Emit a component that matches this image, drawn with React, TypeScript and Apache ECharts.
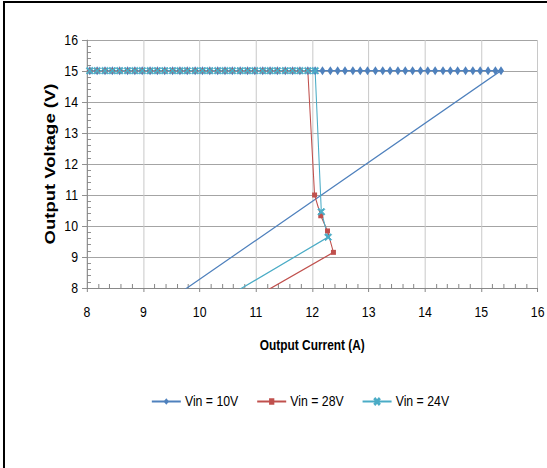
import React, { useEffect, useRef } from "react";
import * as echarts from "echarts";

// Output current (A) / output voltage (V)
const vin10Current = [
  8.05, 8.18, 8.32, 8.45, 8.58, 8.72, 8.85, 8.98, 9.12, 9.25,
  9.38, 9.52, 9.65, 9.78, 9.92, 10.05, 10.18, 10.32, 10.45, 10.58,
  10.72, 10.85, 10.98, 11.12, 11.25, 11.38, 11.52, 11.65, 11.78, 11.92,
  12.05, 12.18, 12.32, 12.45, 12.58, 12.72, 12.85, 12.98, 13.12, 13.25,
  13.38, 13.52, 13.65, 13.78, 13.92, 14.05, 14.18, 14.32, 14.45, 14.58,
  14.72, 14.85, 14.98, 15.12, 15.25, 15.35, 8.98,
];
const vin10Voltage = [
  15.01, 15.01, 15.01, 15.01, 15.01, 15.01, 15.01, 15.01, 15.01, 15.01,
  15.01, 15.01, 15.01, 15.01, 15.01, 15.01, 15.01, 15.01, 15.01, 15.01,
  15.01, 15.01, 15.01, 15.01, 15.01, 15.01, 15.01, 15.01, 15.01, 15.01,
  15.01, 15.01, 15.01, 15.01, 15.01, 15.01, 15.01, 15.01, 15.01, 15.01,
  15.01, 15.01, 15.01, 15.01, 15.01, 15.01, 15.01, 15.01, 15.01, 15.01,
  15.01, 15.01, 15.01, 15.01, 15.01, 15.01, 7.0,
];

const vin28Current = [
  8.05, 8.18, 8.32, 8.45, 8.58, 8.72, 8.85, 8.98, 9.12, 9.25,
  9.38, 9.52, 9.65, 9.78, 9.92, 10.05, 10.18, 10.32, 10.45, 10.58,
  10.72, 10.85, 10.98, 11.12, 11.25, 11.38, 11.52, 11.65, 11.78, 11.92,
  12.04, 12.15, 12.27, 12.375, 10.31,
];
const vin28Voltage = [
  15.01, 15.01, 15.01, 15.01, 15.01, 15.01, 15.01, 15.01, 15.01, 15.01,
  15.01, 15.01, 15.01, 15.01, 15.01, 15.01, 15.01, 15.01, 15.01, 15.01,
  15.01, 15.01, 15.01, 15.01, 15.01, 15.01, 15.01, 15.01, 15.01, 15.01,
  11.0, 10.33, 9.84, 9.15, 7.0,
];

const vin24Current = [
  8.05, 8.18, 8.32, 8.45, 8.58, 8.72, 8.85, 8.98, 9.12, 9.25,
  9.38, 9.52, 9.65, 9.78, 9.92, 10.05, 10.18, 10.32, 10.45, 10.58,
  10.72, 10.85, 10.98, 11.12, 11.25, 11.38, 11.52, 11.65, 11.78, 11.92,
  12.05, 12.16, 12.28, 9.82,
];
const vin24Voltage = [
  15.01, 15.01, 15.01, 15.01, 15.01, 15.01, 15.01, 15.01, 15.01, 15.01,
  15.01, 15.01, 15.01, 15.01, 15.01, 15.01, 15.01, 15.01, 15.01, 15.01,
  15.01, 15.01, 15.01, 15.01, 15.01, 15.01, 15.01, 15.01, 15.01, 15.01,
  15.01, 10.46, 9.64, 7.0,
];

const seriesNames = ["Vin = 10V", "Vin = 28V", "Vin = 24V"];
const xRange = [8, 16];
const yRange = [8, 16];

// The reference is horizontally compressed: draw wider, then squeeze with CSS.
const K = 0.82;
const W = 547;
const H = 468;
const IW = W / K;

const FONT = "'Liberation Sans', Arial, sans-serif";

const zip = (xs: number[], ys: number[]) => xs.map((x, i) => [x, ys[i]]);

const X_SYMBOL =
  "path://M0,1.5 L1.5,0 L5,3.5 L8.5,0 L10,1.5 L6.5,5 L10,8.5 L8.5,10 L5,6.5 L1.5,10 L0,8.5 L3.5,5 Z";

export default function App() {
  const ref = useRef<HTMLDivElement>(null);

  useEffect(() => {
    if (!ref.current) return;
    const chart = echarts.init(ref.current, undefined, { renderer: "svg" });
    const axisColor = "#868686";
    const minorAxis = (pos: string) => ({
      type: "value",
      position: pos,
      min: pos === "bottom" ? xRange[0] : yRange[0],
      max: pos === "bottom" ? xRange[1] : yRange[1],
      interval: 1,
      axisLine: { show: false },
      axisLabel: { show: false },
      splitLine: { show: false },
      axisTick: { show: false, inside: true },
      minorTick: {
        show: true,
        splitNumber: 5,
        length: pos === "bottom" ? 4 : 4 / K,
        lineStyle: { color: axisColor, width: pos === "bottom" ? 1 / K : 1 },
      },
    });
    chart.setOption({
      animation: false,
      backgroundColor: "#ffffff",
      graphic: [
        { type: "rect", left: 3 / K, top: 1, shape: { width: 2 / K, height: H - 1 }, style: { fill: "#000" } },
        { type: "rect", left: 3 / K, top: 1, shape: { width: IW, height: 2 }, style: { fill: "#000" } },
      ],
      grid: { left: 87 / K, right: 9 / K, top: 40, bottom: 180, containLabel: false },
      legend: {
        left: 151 / K,
        top: 394,
        padding: 0,
        itemWidth: 29 / K,
        itemHeight: 8,
        itemGap: 18 / K,
        data: seriesNames,
        textStyle: { fontFamily: FONT, fontSize: 15, color: "#000" },
      },
      xAxis: [
        {
          type: "value",
          position: "bottom",
          min: xRange[0],
          max: xRange[1],
          interval: 1,
          name: "Output Current (A)",
          nameLocation: "middle",
          nameGap: 50,
          nameTextStyle: { fontFamily: FONT, fontWeight: "bold", fontSize: 14.5, color: "#000" },
          axisLine: { show: true, lineStyle: { color: axisColor, width: 1 } },
          axisTick: { show: true, inside: false, length: 4, lineStyle: { color: axisColor, width: 1 / K } },
          axisLabel: { fontFamily: FONT, fontSize: 15, color: "#000", margin: 17 },
          splitLine: { show: true, lineStyle: { color: "#c8c8c8", width: 1 / K } },
        },
        minorAxis("bottom"),
      ],
      yAxis: [
        {
          type: "value",
          position: "left",
          min: yRange[0],
          max: yRange[1],
          interval: 1,
          name: "Output Voltage (V)",
          nameLocation: "middle",
          nameRotate: 90,
          nameGap: 35,
          nameMoveOverlap: false,
          nameTextStyle: { fontFamily: FONT, fontWeight: "bold", fontSize: 18.5, color: "#000" },
          axisLine: { show: true, lineStyle: { color: axisColor, width: 1 / K } },
          axisTick: { show: true, inside: false, length: 5 / K, lineStyle: { color: axisColor } },
          axisLabel: { fontFamily: FONT, fontSize: 15, color: "#000", margin: 11 },
          splitLine: { show: true, lineStyle: { color: "#9a9a9a", width: 1 } },
        },
        minorAxis("left"),
      ],
      series: [
        {
          name: seriesNames[0],
          type: "line",
          data: zip(vin10Current, vin10Voltage),
          clip: true,
          symbol: "diamond",
          symbolSize: [6 / K, 9],
          color: "#4F81BD",
          lineStyle: { width: 1.3, color: "#4F81BD" },
          itemStyle: { color: "#4F81BD" },
        },
        {
          name: seriesNames[1],
          type: "line",
          data: zip(vin28Current, vin28Voltage),
          clip: true,
          symbol: "rect",
          symbolSize: [5 / K, 5],
          color: "#C0504D",
          lineStyle: { width: 1.3, color: "#C0504D" },
          itemStyle: { color: "#C0504D" },
        },
        {
          name: seriesNames[2],
          type: "line",
          data: zip(vin24Current, vin24Voltage),
          clip: true,
          symbol: X_SYMBOL,
          symbolSize: [7 / K, 7],
          color: "#4BACC6",
          lineStyle: { width: 1.3, color: "#4BACC6" },
          itemStyle: { color: "#4BACC6", borderColor: "#4BACC6", borderWidth: 1 },
        },
      ],
    });
    return () => chart.dispose();
  }, []);

  return (
    <div
      style={{ position: "fixed", left: 0, top: 0, width: W, height: H, overflow: "hidden", background: "#fff" }}
    >
      <div
        ref={ref}
        style={{
          width: IW,
          height: H,
          transform: `scaleX(${K})`,
          transformOrigin: "0 0",
        }}
      />
    </div>
  );
}
